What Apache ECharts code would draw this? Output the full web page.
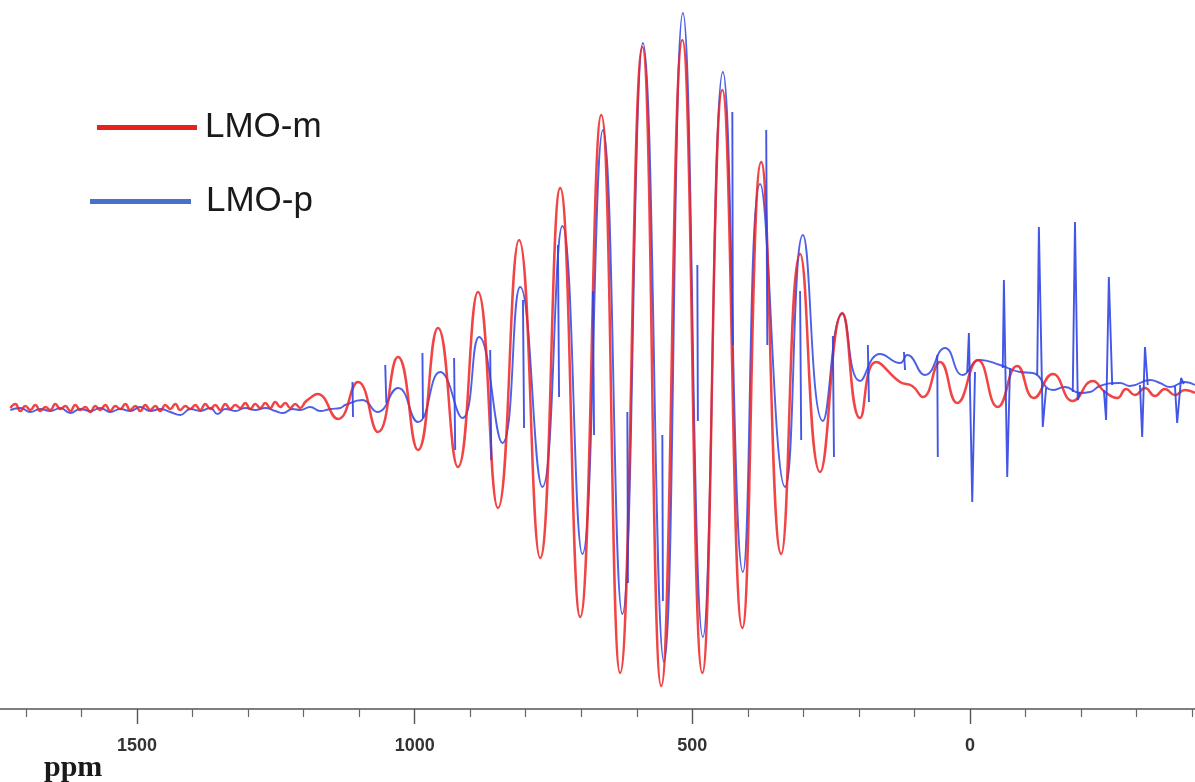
<!DOCTYPE html>
<html>
<head>
<meta charset="utf-8">
<script src="https://cdn.jsdelivr.net/npm/echarts@6/dist/echarts.min.js"></script>
<style>
html,body{margin:0;padding:0;background:#fff;}
#chart{width:1195px;height:782px;}
</style>
</head>
<body>
<div id="chart"></div>
<script>
// chemical shift (ppm) vs intensity (a.u.)
const seriesNames = ['LMO-m', 'LMO-p'];
const axisTickValues = [1500, 1000, 500, 0];
const axisTitle = 'ppm';

const lmoM = [
[1728,0],[1719,4],[1710,-3],[1701,2],[1692,-2],[1683,3],[1674,-3],[1665,1],[1656,-2],[1647,4],
[1638,-1],[1629,2],[1620,-3],[1611,3],[1602,-2],[1593,1],[1584,-4],[1575,2],[1566,-2],[1557,3],
[1548,-3],[1539,2],[1530,-1],[1521,4],[1512,-2],[1503,2],[1494,-3],[1485,3],[1476,-2],[1467,2],
[1458,-3],[1449,3],[1440,-1],[1431,4],[1422,-2],[1413,2],[1404,-1],[1395,3],[1386,-2],[1377,4],
[1368,-1],[1359,3],[1350,-2],[1341,4],[1332,-1],[1323,3],[1314,0],[1305,5],[1296,-1],[1287,4],
[1278,0],[1269,5],[1260,0],[1251,6],[1242,1],[1233,5],[1224,0],[1215,4],[1206,0],[1197,6],
[1188,10],[1175,14],[1138,-11],[1102,26],[1066,-24],[1030,51],[994,-42],[958,80],[922,-59],[886,116],
[850,-100],[812,168],[774,-150],[738,220],[702,-209],[664,293],[630,-265],[590,361],[556,-278],[518,368],
[482,-265],[446,318],[410,-220],[376,246],[340,-146],[306,154],[270,-64],[230,95],[198,-10],[169,46],
[126,26],[104,22],[85,11],[54,46],[23,5],[-14,48],[-50,1],[-85,42],[-115,10],[-149,34],
[-185,7],[-221,27],[-243,16],[-265,10],[-281,19],[-297,13],[-315,20],[-333,12],[-351,19],[-369,13],[-387,18],[-405,15]
];

const lmoP = [
[1728,-2],[1710,0],[1692,-4],[1674,-1],[1656,-3],[1638,0],[1620,-5],[1602,-1],[1584,-3],[1566,0],
[1548,-4],[1530,-1],[1512,-3],[1494,1],[1476,-3],[1458,-1],[1440,-4],[1422,-7],[1404,-1],[1386,-3],
[1368,0],[1355,-6],[1341,-1],[1323,-3],[1305,0],[1287,-2],[1269,0],[1251,-3],[1237,-5],[1220,-1],
[1206,-2],[1188,1],[1170,-3],[1152,-1],[1134,0],[1125,3],[1094,8],[1067,-4],[1030,20],[994,-14],
[954,36],[914,-10],[884,71],[842,-35],[810,121],[770,-79],[734,182],[698,-146],[661,278],[626,-206],
[589,365],[551,-254],[517,395],[481,-229],[445,336],[409,-164],[378,224],[333,-79],[301,173],[265,-13],
[230,94],[198,27],[162,54],[126,45],[113,53],[81,33],[45,60],[13,33],[-18,48],[-54,43],
[-90,36],[-113,35],[-149,18],[-171,21],[-198,15],[-216,16],[-234,22],[-270,25],[-288,22],[-324,28],
[-342,25],[-360,21],[-387,26],[-405,23]
];

// narrow sharp lines of LMO-p (each a short run of points)
const lmoPSpikes = [
[[1112,26],[1111,-9]],
[[1053,43],[1051,5]],
[[986,55],[985,-10]],
[[929,50],[927,-42]],
[[864,58],[862,-52]],
[[805,108],[803,-20]],
[[742,163],[740,11]],
[[679,117],[677,-27]],
[[617,-4],[616,-175]],
[[554,-27],[553,-193]],
[[491,143],[490,-13]],
[[428,296],[427,63]],
[[367,278],[365,63]],
[[306,117],[304,-32]],
[[247,72],[245,-49]],
[[184,63],[182,6]],
[[119,56],[117,38]],
[[59,53],[58,-49]],
[[5,36],[2,75],[-4,-94],[-9,36]],
[[-59,40],[-61,128],[-67,-69],[-72,40]],
[[-121,33],[-124,181],[-131,-19],[-137,20]],
[[-185,16],[-189,186],[-194,8],[-198,16]],
[[-241,18],[-245,-12],[-250,131],[-256,23]],
[[-306,23],[-310,-29],[-315,61],[-320,23]],
[[-369,22],[-373,-15],[-380,30],[-385,24]]
];

const spikeData = [];
lmoPSpikes.forEach(function (seg) {
  seg.forEach(function (p) { spikeData.push(p); });
  spikeData.push([seg[seg.length - 1][0], '-']);
});

const RED = '#ee2424';
const BLUE = '#2f44e2';

const chart = echarts.init(document.getElementById('chart'), null, {renderer: 'canvas'});
chart.setOption({
  animation: false,
  backgroundColor: '#ffffff',
  grid: {left: -140.7, right: -52.7, top: 0, bottom: 73, containLabel: false, outerBoundsMode: 'none'},
  legend: [
    {
      data: [{name: seriesNames[0], icon: 'rect', itemStyle: {color: '#e8201e'}}],
      left: 97, top: 110, padding: 0,
      itemWidth: 100, itemHeight: 5,
      selectedMode: false,
      textStyle: {fontSize: 35, color: '#1a1a1a', fontFamily: 'Liberation Sans, Arial, sans-serif', padding: [0, 0, 0, 3]}
    },
    {
      data: [{name: seriesNames[1], icon: 'rect', itemStyle: {color: '#4673c8'}}],
      left: 90, top: 184, padding: 0,
      itemWidth: 101, itemHeight: 5,
      selectedMode: false,
      textStyle: {fontSize: 35, color: '#1a1a1a', fontFamily: 'Liberation Sans, Arial, sans-serif', padding: [0, 0, 0, 10]}
    }
  ],
  xAxis: {
    type: 'value',
    inverse: true,
    min: -500,
    max: 2000,
    interval: 500,
    axisLine: {show: true, onZero: false, lineStyle: {color: '#555', width: 1.6}},
    axisTick: {show: true, length: 15, lineStyle: {color: '#555', width: 1.4}},
    minorTick: {show: true, splitNumber: 5, length: 8, lineStyle: {color: '#666', width: 1.2}},
    splitLine: {show: false},
    minorSplitLine: {show: false},
    axisLabel: {
      margin: 28,
      fontSize: 18,
      fontWeight: 'bold',
      color: '#333',
      fontFamily: 'Liberation Sans, Arial, sans-serif',
      formatter: function (v) { return axisTickValues.indexOf(v) >= 0 ? String(v) : ''; }
    }
  },
  yAxis: {
    type: 'value',
    min: -301,
    max: 408,
    show: false
  },
  graphic: [
    {
      type: 'text',
      left: 44,
      top: 753,
      style: {
        text: axisTitle,
        font: 'bold 30px "Liberation Serif", "Times New Roman", serif',
        fill: '#1a1a1a'
      }
    }
  ],
  series: [
    {
      name: seriesNames[1],
      type: 'line',
      data: lmoP,
      symbol: 'none',
      smooth: 0.5,
      lineStyle: {color: BLUE, width: 1.9, opacity: 0.85},
      itemStyle: {color: BLUE},
      z: 2
    },
    {
      name: seriesNames[0],
      type: 'line',
      data: lmoM,
      symbol: 'none',
      smooth: 0.5,
      lineStyle: {color: RED, width: 2.5, opacity: 0.85},
      itemStyle: {color: RED},
      z: 3
    },
    {
      name: seriesNames[1],
      type: 'line',
      data: spikeData,
      symbol: 'none',
      smooth: false,
      connectNulls: false,
      lineStyle: {color: BLUE, width: 1.9, opacity: 0.9},
      itemStyle: {color: BLUE},
      z: 4
    }
  ]
});
</script>
</body>
</html>
